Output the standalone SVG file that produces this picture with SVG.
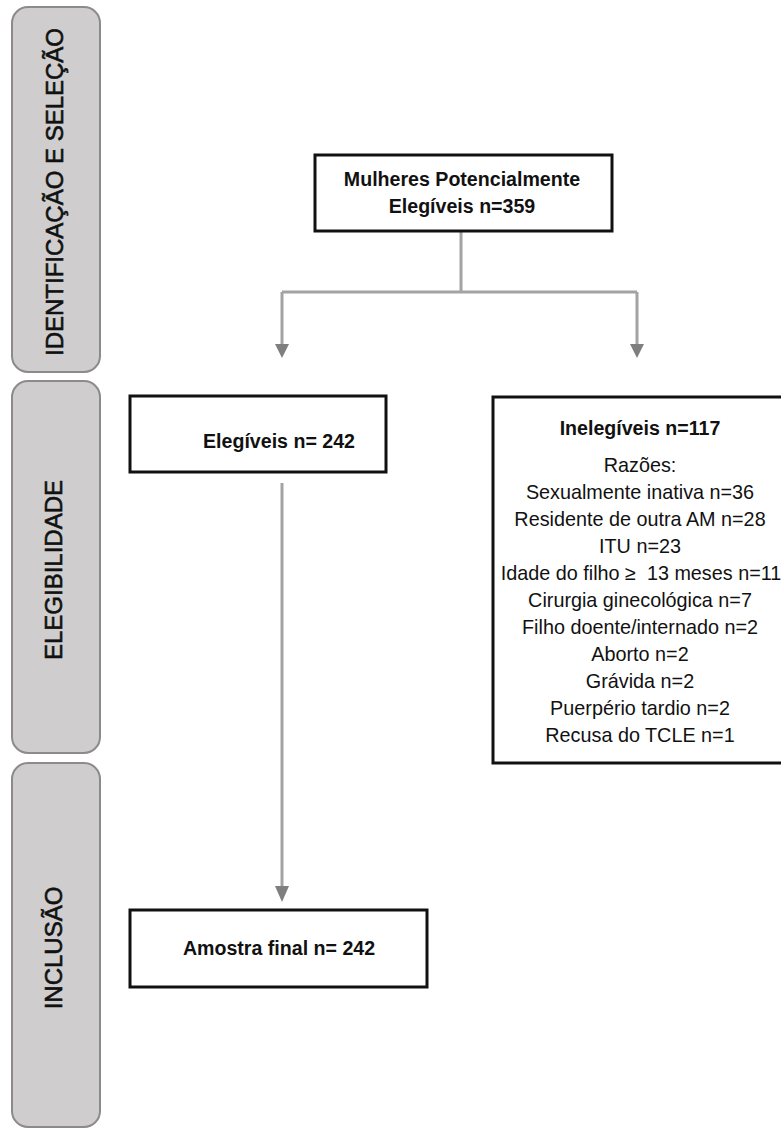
<svg xmlns="http://www.w3.org/2000/svg" width="781" height="1128" viewBox="0 0 781 1128">
<style>
.panel{fill:#cfcdce;stroke:#8c8a8b;stroke-width:2}
.ptxt{font-family:"Liberation Sans",Arial,sans-serif;font-size:24px;fill:#111;stroke:#111;stroke-width:0.6;text-anchor:middle}
.box{fill:#fff;stroke:#111;stroke-width:3}
.b{font-family:"Liberation Sans",Arial,sans-serif;font-size:19.6px;font-weight:bold;fill:#111;text-anchor:middle}
.r{font-family:"Liberation Sans",Arial,sans-serif;font-size:19.8px;fill:#111;text-anchor:middle}
.line{fill:none;stroke:#a3a3a3;stroke-width:3}
.head{fill:#7f7f7f}
</style>
<rect width="781" height="1128" fill="#fff"/>
<g id="panel-identificacao">
<rect class="panel" x="12" y="7" width="88" height="365" rx="16"/>
<text class="ptxt" transform="translate(63,192) rotate(-90)">IDENTIFICAÇÃO E SELEÇÃO</text>
</g>
<g id="panel-elegibilidade">
<rect class="panel" x="12" y="381" width="88" height="372" rx="16"/>
<text class="ptxt" transform="translate(62,570) rotate(-90)">ELEGIBILIDADE</text>
</g>
<g id="panel-inclusao">
<rect class="panel" x="12" y="763" width="88" height="364" rx="16"/>
<text class="ptxt" transform="translate(62,948) rotate(-90)">INCLUSÃO</text>
</g>
<g id="connectors">
<path class="line" d="M461,231 V292 M282,292 H637 M282,292 V345 M637,292 V345"/>
<polygon class="head" points="275,344 289,344 282,358"/>
<polygon class="head" points="630,344 644,344 637,358"/>
<path class="line" d="M282,483 V887"/>
<polygon class="head" points="275,886 289,886 282,902"/>
</g>
<g id="node-potencialmente">
<rect class="box" x="315" y="155" width="297" height="76"/>
<text class="b" x="462" y="186">Mulheres Potencialmente</text>
<text class="b" x="462" y="213">Elegíveis n=359</text>
</g>
<g id="node-elegiveis">
<rect class="box" x="130" y="396" width="256" height="76"/>
<text class="b" x="279" y="448">Elegíveis n= 242</text>
</g>
<g id="node-inelegiveis">
<rect class="box" x="493" y="397" width="300" height="366"/>
<text class="b" x="640" y="435">Inelegíveis n=117</text>
<text class="r" x="640" y="472">Razões:</text>
<text class="r" x="640" y="499">Sexualmente inativa n=36</text>
<text class="r" x="640" y="526">Residente de outra AM n=28</text>
<text class="r" x="640" y="553">ITU n=23</text>
<text class="r" x="641" y="580">Idade do filho ≥&#160; 13 meses n=11</text>
<text class="r" x="640" y="607">Cirurgia ginecológica n=7</text>
<text class="r" x="640" y="634">Filho doente/internado n=2</text>
<text class="r" x="640" y="661">Aborto n=2</text>
<text class="r" x="640" y="688">Grávida n=2</text>
<text class="r" x="640" y="715">Puerpério tardio n=2</text>
<text class="r" x="640" y="742">Recusa do TCLE n=1</text>
</g>
<g id="node-amostra">
<rect class="box" x="130" y="910" width="297" height="77"/>
<text class="b" x="279" y="955">Amostra final n= 242</text>
</g>
</svg>
